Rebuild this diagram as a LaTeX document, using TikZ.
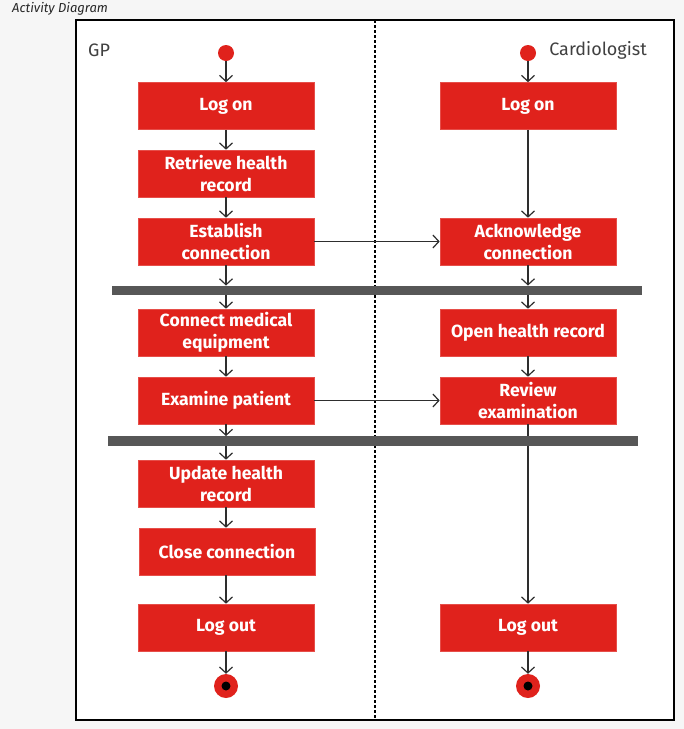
\documentclass[tikz,border=0pt]{standalone}
\usepackage{fontspec}
\setmainfont{Fira Sans}
\usetikzlibrary{arrows.meta}
\definecolor{umlred}{HTML}{E0221C}
\definecolor{barg}{HTML}{575757}
\definecolor{lineg}{HTML}{2E2E2E}
\definecolor{bgg}{HTML}{F6F6F6}
\tikzset{
  actbox/.style={fill=umlred, draw=umlred!80!white, line width=0.6pt, minimum width=176pt, minimum height=47pt, inner sep=0pt, align=center, text=white, font=\fontsize{17.6}{22}\selectfont\bfseries},
  forkbar/.style={fill=barg, draw=none, minimum height=9.5pt, inner sep=0pt},
  arr/.style={draw=lineg, line width=1.2pt, -{Straight Barb[length=6pt,width=13pt,line width=1.2pt]}},
  plain/.style={draw=lineg, line width=1.2pt},
  startdot/.style={circle, fill=umlred, minimum size=16pt, inner sep=0pt},
  lanelabel/.style={text=black!75, font=\fontsize{18}{21}\selectfont, inner sep=0pt}
}
\begin{document}
\begin{tikzpicture}[x=1pt,y=-1pt]
\useasboundingbox (0,0) rectangle (684,729);
\fill[bgg] (0,0) rectangle (684,729);
\node[anchor=west, inner sep=0pt, font=\fontsize{13}{15}\selectfont\itshape, text=black!85] (title) at (12,9) {Activity Diagram};
\draw[fill=white, line width=1.4pt] (76,20) rectangle (674,720);
\draw[line width=1.3pt, dash pattern=on 3pt off 2pt] (375,20) -- (375,720);
\node[lanelabel, anchor=west] (gp) at (88,50) {GP};
\node[lanelabel, anchor=east] (card) at (647,50) {Cardiologist};
% left column
\node[startdot] (ls) at (226,53) {};
\node[actbox] (l1) at (226,106) {Log on};
\node[actbox] (l2) at (226,173.5) {Retrieve health\\record};
\node[actbox] (l3) at (226,241.5) {Establish\\connection};
\node[forkbar, minimum width=530pt] (b1) at (377,290.5) {};
\node[actbox] (l4) at (226,332.5) {Connect medical\\equipment};
\node[actbox] (l5) at (226,400.5) {Examine patient};
\node[forkbar, minimum width=530pt] (b2) at (373,441) {};
\node[actbox] (l6) at (226,483.5) {Update health\\record};
\node[actbox] (l7) at (227,551.5) {Close connection};
\node[actbox] (l8) at (226,627.5) {Log out};
\node[circle, fill=umlred, minimum size=24pt, inner sep=0pt] (le) at (226,686) {};
\fill[black] (le.center) circle (4.5pt);
% right column
\node[startdot] (rs) at (528,53) {};
\node[actbox] (r1) at (528,106) {Log on};
\node[actbox] (r2) at (528,241.5) {Acknowledge\\connection};
\node[actbox] (r3) at (528,332.5) {Open health record};
\node[actbox] (r4) at (528,400.5) {Review\\examination};
\node[actbox] (r5) at (528,627.5) {Log out};
\node[circle, fill=umlred, minimum size=24pt, inner sep=0pt] (re) at (528,686) {};
\fill[black] (re.center) circle (4.5pt);
% left connectors
\draw[arr] (ls) -- (l1);
\draw[arr] (l1) -- (l2);
\draw[arr] (l2) -- (l3);
\draw[arr] (l3) -- (l3 |- b1.north);
\draw[arr] (l3 |- b1.south) -- (l4);
\draw[arr] (l4) -- (l5);
\draw[arr] (l5) -- (l5 |- b2.north);
\draw[arr] (l5 |- b2.south) -- (l6);
\draw[arr] (l6) -- (l7.north -| l6);
\draw[arr] (l7.south -| l8) -- (l8);
\draw[arr] (l8) -- (le);
% right connectors
\draw[arr] (rs) -- (r1);
\draw[arr] (r1) -- (r2);
\draw[arr] (r2) -- (r2 |- b1.north);
\draw[arr] (r2 |- b1.south) -- (r3);
\draw[arr] (r3) -- (r4);
\draw[plain] (r4) -- (r4 |- b2.north);
\draw[arr] (r4 |- b2.south) -- (r5);
\draw[arr] (r5) -- (re);
% cross-lane
\draw[arr] (l3) -- (r2);
\draw[arr] (l5) -- (r4);
\end{tikzpicture}
\end{document}
